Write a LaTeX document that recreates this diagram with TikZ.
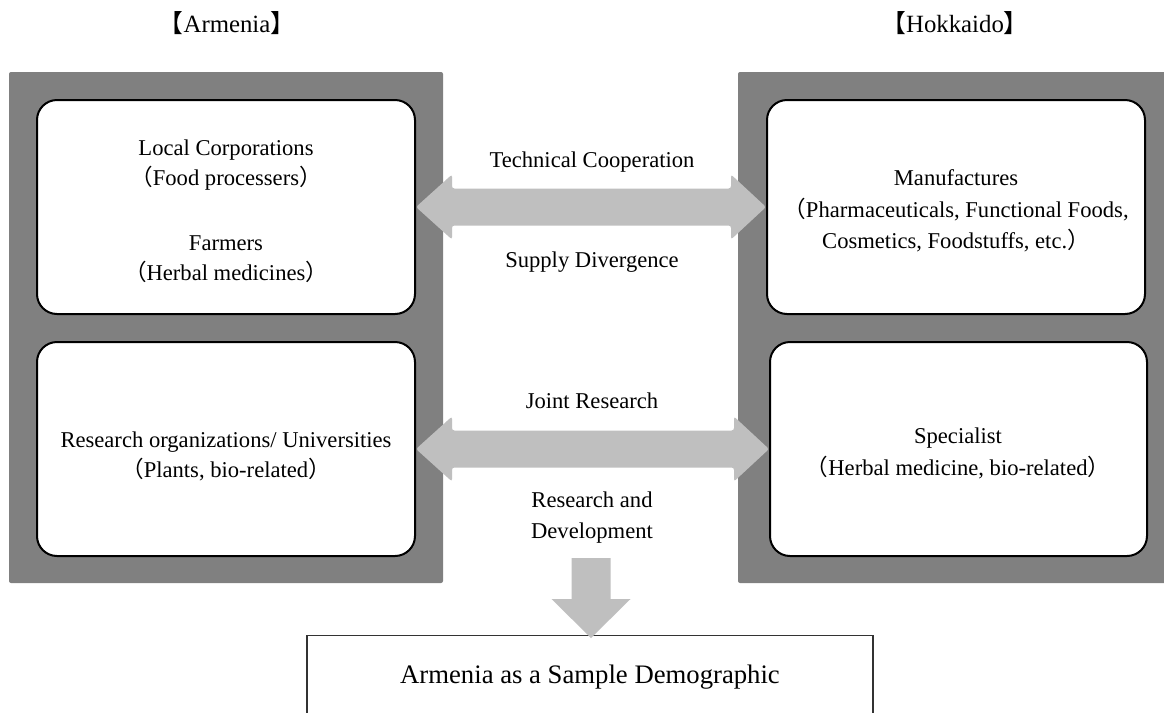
\documentclass[tikz,border=0pt]{standalone}
\usepackage{fontspec}
\setmainfont{Liberation Serif}
\newfontfamily\cjkfont{Noto Sans CJK JP}
\usetikzlibrary{calc}

\definecolor{panelgray}{HTML}{808080}
\definecolor{arrowgray}{HTML}{BFBFBF}
\definecolor{framegray}{HTML}{333333}

% full-width brackets and parentheses
\newcommand{\fwl}{{\cjkfont （}}
\newcommand{\fwr}{{\cjkfont ）}}
\newcommand{\lbk}{{\cjkfont 【}}
\newcommand{\rbk}{{\cjkfont 】}}

\tikzset{
  panel/.style={fill=panelgray, draw=none, rounded corners=1pt, inner sep=0pt},
  whitebox/.style={fill=white, draw=black, line width=1pt, rounded corners=10pt, inner sep=0pt},
  line/.style={anchor=base, inner sep=0pt, font=\fontsize{11.3pt}{14pt}\selectfont},
  title/.style={anchor=base, inner sep=0pt, font=\fontsize{12.4pt}{15pt}\selectfont},
  bigline/.style={anchor=base, inner sep=0pt, font=\fontsize{13.35pt}{16pt}\selectfont},
  flow/.style={fill=arrowgray, rounded corners=1.2pt},
  outcome/.style={draw=framegray, line width=0.7pt, fill=none, inner sep=0pt}
}

\begin{document}
\begin{tikzpicture}[x=0.5pt, y=-0.5pt]
  \useasboundingbox[fill=white] (0,0) rectangle (1164,713);

  % headings
  \node[title] (armtitle) at (227,32) {\lbk Armenia\rbk};
  \node[title] (hoktitle) at (955,32) {\lbk Hokkaido\rbk};

  % grey backgrounds
  \node[panel, minimum width=217pt, minimum height=255.5pt] (armpanel) at (226,327.5) {};
  \node[panel, minimum width=214pt, minimum height=255.5pt] (hokpanel) at (952,327.5) {};

  % rounded boxes
  \node[whitebox, minimum width=189pt, minimum height=107pt] (lt) at (226,207) {};
  \node[whitebox, minimum width=189pt, minimum height=107pt] (lb) at (226,449) {};
  \node[whitebox, minimum width=189pt, minimum height=107pt] (rt) at (956,207) {};
  \node[whitebox, minimum width=188.5pt, minimum height=107pt] (rb) at (958.5,449) {};

  % texts in the boxes
  \node[line] (lt1) at (226,155) {Local Corporations};
  \node[line] (lt2) at (226,185) {\fwl Food processers\fwr};
  \node[line] (lt3) at (226,250) {Farmers};
  \node[line] (lt4) at (226,280) {\fwl Herbal medicines\fwr};

  \node[line] (rt1) at (956,185) {Manufactures};
  \node[line] (rt2) at (956,217) {\fwl Pharmaceuticals, Functional Foods,};
  \node[line] (rt3) at (956,248) {Cosmetics, Foodstuffs, etc.\fwr};

  \node[line] (lb1) at (226,447) {Research organizations/ Universities};
  \node[line] (lb2) at (226,477) {\fwl Plants, bio-related\fwr};

  \node[line] (rb1) at (958,443) {Specialist};
  \node[line] (rb2) at (958,475) {\fwl Herbal medicine, bio-related\fwr};

  % double arrows between the boxes
  \fill[flow] (lt.east) -- ++(36,-32.5) -- ++(0,14)
    -- ($(rt.west)+(-35,-18.5)$) -- ++(0,-14) -- (rt.west)
    -- ++(-35,32.5) -- ++(0,-14) -- ($(lt.east)+(36,18.5)$) -- ++(0,14) -- cycle;
  \fill[flow] (lb.east) -- ++(36,-32.5) -- ++(0,14)
    -- ($(rb.west)+(-35,-18.5)$) -- ++(0,-14) -- (rb.west)
    -- ++(-35,32.5) -- ++(0,-14) -- ($(lb.east)+(36,18.5)$) -- ++(0,14) -- cycle;

  % arrow labels
  \node[line] (coop) at (592,167) {Technical Cooperation};
  \node[line] (supply) at (592,267) {Supply Divergence};
  \node[line] (joint) at (592,408) {Joint Research};
  \node[line] (rd1) at (592,507) {Research and};
  \node[line] (rd2) at (592,538) {Development};

  % outcome box, open at the bottom edge
  \node[outcome, minimum width=283pt, minimum height=80pt, anchor=north] (demo) at (590,635) {};
  \node[bigline] (demotext) at (590,683) {Armenia as a Sample Demographic};

  % downward arrow into the outcome box
  \coordinate (dtop) at (591,558);
  \fill[arrowgray] ($(dtop)+(-19.5,0)$) -- ++(39,0) -- ++(0,41) -- ++(20,0)
    -- ($(demo.north)+(1,3)$) -- ($(dtop)+(-39.5,41)$) -- ++(20,0) -- cycle;
\end{tikzpicture}
\end{document}
